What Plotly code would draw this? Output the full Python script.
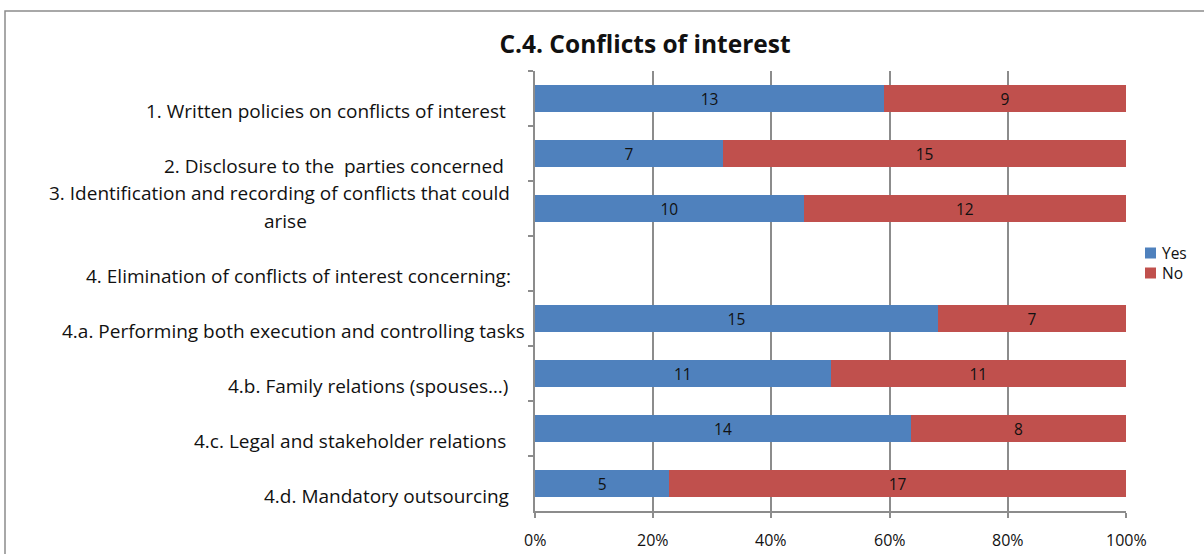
import plotly.graph_objects as go

# Survey answers per question (count of respondents)
categories = [
    "1. Written policies on conflicts of interest",
    "2. Disclosure to the  parties concerned",
    "3. Identification and recording of conflicts that could",
    "4. Elimination of conflicts of interest concerning:",
    "4.a. Performing both execution and controlling tasks",
    "4.b. Family relations (spouses\u2026)",
    "4.c. Legal and stakeholder relations",
    "4.d. Mandatory outsourcing",
]
yes_counts = [13, 7, 10, None, 15, 11, 14, 5]
no_counts = [9, 15, 12, None, 7, 11, 8, 17]
x_ticks = [0, 20, 40, 60, 80, 100]
x_tick_labels = ["0%", "20%", "40%", "60%", "80%", "100%"]

W, H = 1204, 554
PL, PR, PT, PB = 535, 1126, 71, 511  # plot area in pixels

FONT = "'Open Sans', sans-serif"
BLUE = "#4F81BD"
RED = "#C0504D"
GRID = "#8C8C8C"
TXT = "#111111"


def px_x(p):
    """pixel column -> paper x"""
    return (p - PL) / (PR - PL)


def px_y(p):
    """pixel row -> paper y"""
    return (PB - p) / (PB - PT)


row_ids = list(range(len(categories)))
series = (("Yes", yes_counts, BLUE), ("No", no_counts, RED))

fig = go.Figure()
for name, vals, col in series:
    fig.add_trace(go.Bar(
        name=name, y=row_ids, x=vals, orientation="h",
        marker=dict(color=col, line=dict(width=0)),
        text=[("" if v is None else str(v)) for v in vals],
        texttemplate="%{text}", textposition="inside", insidetextanchor="middle",
        textangle=0, constraintext="none",
        textfont=dict(family=FONT, size=15.5, color=TXT),
        hoverinfo="skip", showlegend=False,
    ))

# Category labels drawn as annotations: right edge (px) and vertical shift (px)
label_right = [508, 506, 512, 513, 527, 510, 508, 511]
label_shift = [-12, -12, 16, -12, -12, -12, -12, -12]
LABEL_SIZE = 19
annotations = []
for i, (txt, rx, dy) in enumerate(zip(categories, label_right, label_shift)):
    annotations.append(dict(
        x=px_x(rx), xref="paper", y=i, yref="y",
        xanchor="right", yanchor="middle", yshift=dy,
        text=txt, showarrow=False,
        font=dict(family=FONT, size=LABEL_SIZE, color=TXT),
    ))
# second line of the third label
annotations.append(dict(
    x=px_x(285), xref="paper", y=2, yref="y",
    xanchor="center", yanchor="middle", yshift=-12,
    text="arise", showarrow=False,
    font=dict(family=FONT, size=LABEL_SIZE, color=TXT),
))

# Percent tick labels under the x axis
for v, t in zip(x_ticks, x_tick_labels):
    annotations.append(dict(
        x=v, xref="x", y=px_y(540), yref="paper",
        xanchor="center", yanchor="middle", text=t, showarrow=False,
        font=dict(family=FONT, size=16, color=TXT),
    ))

# Legend: colour squares with series names
shapes = []
for k, (name, _, col) in enumerate(series):
    yc = 253 + 20 * k
    shapes.append(dict(
        type="rect", xref="paper", yref="paper",
        x0=px_x(1145), x1=px_x(1156), y0=px_y(yc + 5.5), y1=px_y(yc - 5.5),
        fillcolor=col, line=dict(width=0),
    ))
    annotations.append(dict(
        x=px_x(1161), xref="paper", y=px_y(yc), yref="paper",
        xanchor="left", yanchor="middle", text=name, showarrow=False,
        font=dict(family=FONT, size=15.5, color=TXT), borderpad=0,
    ))

# Outer chart border
shapes.append(dict(
    type="rect", xref="paper", yref="paper",
    x0=px_x(5), x1=px_x(W + 10), y0=px_y(H + 10), y1=px_y(11),
    line=dict(color="#8C8C8C", width=1.5), fillcolor="rgba(0,0,0,0)",
    layer="below",
))

fig.update_layout(
    width=W, height=H,
    margin=dict(l=PL, r=W - PR, t=PT, b=H - PB, pad=0),
    paper_bgcolor="white", plot_bgcolor="white",
    barmode="stack", barnorm="percent", bargap=0.5,
    title=dict(
        text="<b>C.4. Conflicts of interest</b>",
        x=645 / W, xanchor="center", y=1 - 44 / H, yanchor="middle",
        font=dict(family=FONT, size=24.5, color=TXT),
    ),
    showlegend=False,
    annotations=annotations,
    shapes=shapes,
    xaxis=dict(
        range=[0, 100], tickvals=x_ticks, showticklabels=False,
        showgrid=True, gridcolor=GRID, gridwidth=1.5,
        showline=True, linecolor=GRID, linewidth=1.5,
        ticks="outside", ticklen=5, tickcolor=GRID, tickwidth=1.5,
        zeroline=False, fixedrange=True,
    ),
    yaxis=dict(
        type="category", tickson="boundaries",
        categoryorder="array", categoryarray=row_ids, autorange="reversed",
        showticklabels=False,
        showline=True, linecolor=GRID, linewidth=1.5,
        ticks="outside", ticklen=5, tickcolor=GRID, tickwidth=1.5,
        showgrid=False, zeroline=False, fixedrange=True,
    ),
)

fig.write_html("out.html")
